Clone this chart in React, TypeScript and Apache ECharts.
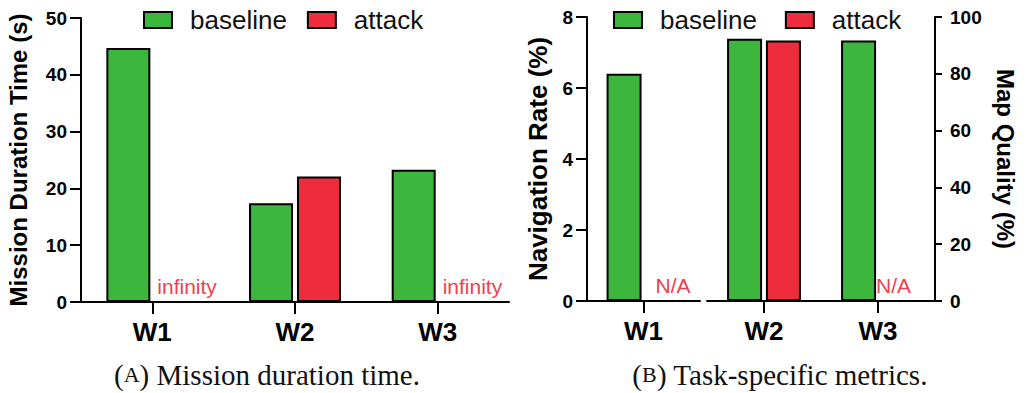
import React, { useEffect, useRef } from "react";
import * as echarts from "echarts";

// Panel A: mission duration time (s)
const durationCategories = ["W1", "W2", "W3"];
const durationBaseline: (number | null)[] = [44.7, 17.4, 23.3];
const durationAttack: (number | null)[] = [null, 22.1, null];
const durationNotes = [
  { category: "W1", text: "infinity" },
  { category: "W3", text: "infinity" },
];

// Panel B, left part: navigation rate (%)
const navCategories = ["W1"];
const navBaseline: (number | null)[] = [6.4];
const navAttack: (number | null)[] = [null];
const navNotes = [{ category: "W1", text: "N/A" }];

// Panel B, right part: map quality (%)
const mapCategories = ["W2", "W3"];
const mapBaseline: (number | null)[] = [92.3, 91.7];
const mapAttack: (number | null)[] = [91.7, null];
const mapNotes = [{ category: "W3", text: "N/A" }];

const seriesNames = ["baseline", "attack"];

const GREEN = "#3cb63c";
const RED = "#ee2c3c";
const NOTE_RED = "#ef3f4c";
const SANS = "Liberation Sans, Arial, sans-serif";
const SERIF = "Liberation Serif, Times New Roman, serif";

// horizontal offset of each note label relative to its category centre
const noteOffsets: Record<string, number> = {
  "0-W1": 5,
  "0-W3": 5,
  "1-W1": 12,
  "2-W3": -2,
};

function buildOption(): echarts.EChartsCoreOption {
  const axisLine = { show: true, lineStyle: { color: "#000", width: 2 } };

  const xAxisBase = (gridIndex: number, data: string[]) => ({
    type: "category",
    gridIndex,
    data,
    axisLine,
    axisTick: { show: true, alignWithLabel: true, length: 12, lineStyle: { color: "#000", width: 2 } },
    axisLabel: { color: "#000", fontFamily: SANS, fontWeight: "bold", fontSize: 26, margin: 17 },
    splitLine: { show: false },
  });

  const yAxisBase = (gridIndex: number, max: number, interval: number, position: string, tickLen: number) => ({
    type: "value",
    gridIndex,
    min: 0,
    max,
    interval,
    position,
    axisLine,
    axisTick: { show: true, length: tickLen, lineStyle: { color: "#000", width: 2 } },
    axisLabel: {
      color: "#000",
      fontFamily: SANS,
      fontWeight: "bold",
      fontSize: 19,
      margin: tickLen + (position === "left" ? 3 : 8),
    },
    splitLine: { show: false },
  });

  const barSeries = (
    name: string,
    data: (number | null)[],
    axis: number,
    barWidth: number,
    barGap: string
  ) => ({
    type: "bar",
    name,
    xAxisIndex: axis,
    yAxisIndex: axis,
    data,
    barWidth,
    barGap,
    itemStyle: {
      color: name === "baseline" ? GREEN : RED,
      borderColor: "#000",
      borderWidth: 2,
    },
  });

  const noteSeries = (axis: number, notes: { category: string; text: string }[]) => ({
    type: "scatter",
    name: "note-" + axis,
    xAxisIndex: axis,
    yAxisIndex: axis,
    symbolSize: 0.1,
    itemStyle: { color: "transparent", opacity: 1 },
    silent: true,
    data: notes.map((n) => ({
      value: [n.category, 0],
      label: {
        show: true,
        formatter: n.text,
        position: "inside",
        align: "left",
        verticalAlign: "middle",
        offset: [noteOffsets[axis + "-" + n.category] ?? 0, -16],
        color: NOTE_RED,
        opacity: 1,
        fontFamily: SANS,
        fontSize: 21,
      },
    })),
  });

  const legendBase = (left: number, itemGap: number) => ({
    data: seriesNames,
    left,
    top: 7,
    padding: 0,
    itemWidth: 28,
    itemHeight: 16,
    itemGap,
    icon: "rect",
    textStyle: { color: "#111", fontFamily: SANS, fontSize: 26, padding: [0, 0, 0, 13] },
  });

  const caption = (centerX: number, letter: string, rest: string) => ({
    text: "{p|(}{sc|" + letter + "}{p|) " + rest + "}",
    left: centerX,
    top: 355,
    textAlign: "center",
    textStyle: {
      fontWeight: "normal",
      rich: {
        p: { fontFamily: SERIF, fontSize: 29, fontWeight: "normal", color: "#111" },
        sc: { fontFamily: SERIF, fontSize: 22, fontWeight: "normal", color: "#111" },
      },
    },
  });

  return {
    animation: false,
    backgroundColor: "#fff",
    title: [
      caption(262, "A", "Mission duration time."),
      caption(775, "B", "Task-specific metrics."),
    ],
    legend: [legendBase(143, 20), legendBase(613, 28)],
    grid: [
      { left: 81, top: 18, width: 428, height: 284 },
      { left: 587, top: 17, width: 113, height: 284 },
      { left: 707, top: 17, width: 228, height: 284 },
    ],
    xAxis: [
      xAxisBase(0, durationCategories),
      xAxisBase(1, navCategories),
      xAxisBase(2, mapCategories),
    ],
    yAxis: [
      {
        ...yAxisBase(0, 50, 10, "left", 11),
        name: "Mission Duration Time (s)",
        nameLocation: "middle",
        nameGap: 51,
        nameTextStyle: { color: "#000", fontFamily: SANS, fontWeight: "bold", fontSize: 24 },
      },
      {
        ...yAxisBase(1, 8, 2, "left", 11),
        name: "Navigation Rate (%)",
        nameLocation: "middle",
        nameGap: 36,
        nameTextStyle: { color: "#000", fontFamily: SANS, fontWeight: "bold", fontSize: 26 },
      },
      {
        ...yAxisBase(2, 100, 20, "right", 7),
        name: "Map Quality (%)",
        nameLocation: "middle",
        nameRotate: -90,
        nameGap: 58,
        nameTextStyle: { color: "#000", fontFamily: SANS, fontWeight: "bold", fontSize: 24 },
      },
    ],
    series: [
      barSeries("baseline", durationBaseline, 0, 44, "9%"),
      barSeries("attack", durationAttack, 0, 44, "9%"),
      barSeries("baseline", navBaseline, 1, 35, "11%"),
      barSeries("attack", navAttack, 1, 35, "11%"),
      barSeries("baseline", mapBaseline, 2, 35, "11%"),
      barSeries("attack", mapAttack, 2, 35, "11%"),
      noteSeries(0, durationNotes),
      noteSeries(1, navNotes),
      noteSeries(2, mapNotes),
    ],
  };
}

export default function App() {
  const ref = useRef<HTMLDivElement>(null);

  useEffect(() => {
    if (!ref.current) return;
    const chart = echarts.init(ref.current, undefined, { renderer: "svg" });
    chart.setOption(buildOption());
    return () => chart.dispose();
  }, []);

  return (
    <div
      ref={ref}
      style={{ position: "fixed", left: 0, top: 0, width: 1027, height: 393, background: "#fff" }}
    />
  );
}
